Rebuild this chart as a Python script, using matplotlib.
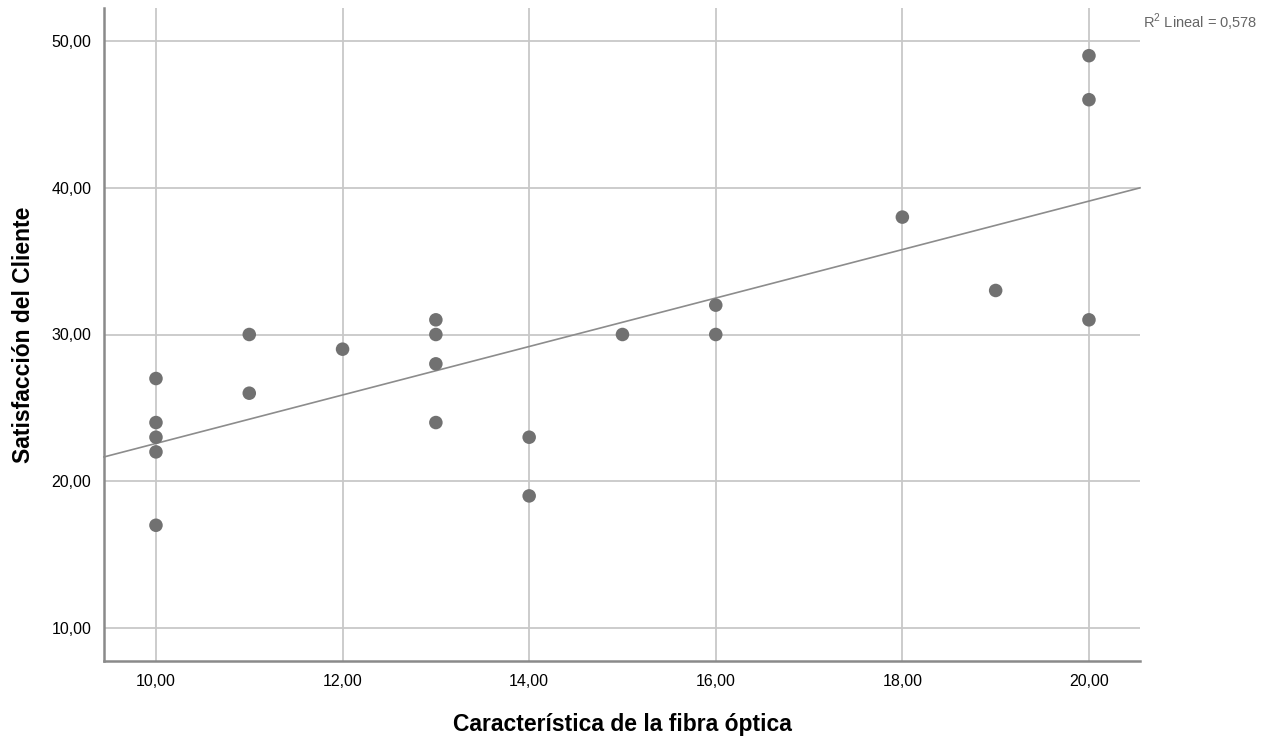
import numpy as np
import matplotlib
matplotlib.use("Agg")
import matplotlib.pyplot as plt
from matplotlib.ticker import FuncFormatter

# Data
fibra = [10, 10, 10, 10, 10, 11, 11, 12, 13, 13, 13, 13, 14, 14, 15, 16, 16, 18, 19, 20, 20, 20]
satisf = [27, 24, 23, 22, 17, 30, 26, 29, 31, 30, 28, 24, 23, 19, 30, 32, 30, 38, 33, 49, 46, 31]
x_ticks = [10, 12, 14, 16, 18, 20]
y_ticks = [10, 20, 30, 40, 50]
r2_label = "R$^2$ Lineal = 0,578"

plt.rcParams['font.family'] = ['Liberation Sans', 'DejaVu Sans']
plt.rcParams['mathtext.fontset'] = 'custom'
plt.rcParams['mathtext.rm'] = 'Liberation Sans'

fig = plt.figure(figsize=(12.84, 7.40), dpi=100)
ax = fig.add_axes([104/1284, 1-661/740, (1140-104)/1284, (661-8)/740])

xlim = (9.443, 20.547)
ylim = (7.75, 52.25)
ax.set_xlim(*xlim)
ax.set_ylim(*ylim)

ax.set_xticks(x_ticks)
ax.set_yticks(y_ticks)
fmt = FuncFormatter(lambda v, p: f"{v:.2f}".replace('.', ','))
ax.xaxis.set_major_formatter(fmt)
ax.yaxis.set_major_formatter(fmt)
ax.tick_params(length=0, labelsize=11.5, colors='#000000', pad=9)
ax.grid(True, color='#c8c8c8', linewidth=1.3)
ax.set_axisbelow(True)

for s in ['top', 'right']:
    ax.spines[s].set_visible(False)
for s in ['left', 'bottom']:
    ax.spines[s].set_color('#8a8a8a')
    ax.spines[s].set_linewidth(1.8)

# Fit line
xa = np.array(fibra, dtype=float)
ya = np.array(satisf, dtype=float)
b, a = np.polyfit(xa, ya, 1)
xx = np.array(xlim)
ax.plot(xx, a + b*xx, color='#8c8c8c', linewidth=1.2, zorder=2, clip_on=False)

ax.scatter(fibra, satisf, s=95, color='#717171', edgecolors='none', zorder=3)

ax.set_xlabel("Característica de la fibra óptica", fontsize=16.5, fontweight='bold', labelpad=18)
ax.set_ylabel("Satisfacción del Cliente", fontsize=16.5, fontweight='bold', labelpad=12)

fig.text(1143/1284, 1-22/740, r2_label, fontsize=10.5, color='#666666', ha='left', va='center')

fig.savefig("out.png", dpi=100)
